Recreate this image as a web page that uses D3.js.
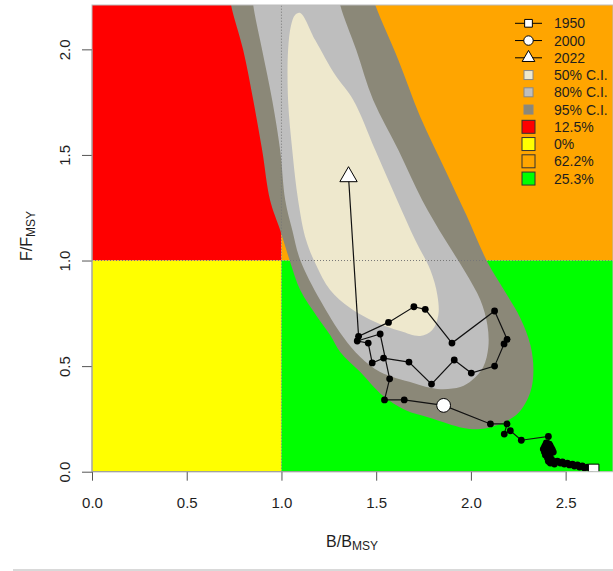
<!DOCTYPE html>
<html>
<head>
<meta charset="utf-8">
<script src="https://cdn.jsdelivr.net/npm/d3@7"></script>
<style>
  body { margin: 0; background: #fff; }
  text { font-family: "Liberation Sans", Arial, sans-serif; fill: #1e1e1e; }
</style>
</head>
<body>
<div id="chart"></div>
<script>
// stock trajectory, one point per year from 1950
const startYear = 1950
const markerYears = [1950, 2000, 2022]
const bRatio = [2.648, 2.631, 2.615, 2.599, 2.588, 2.573, 2.562, 2.546, 2.536, 2.520,
  2.509, 2.493, 2.483, 2.472, 2.456, 2.446, 2.430, 2.441, 2.419, 2.409,
  2.425, 2.404, 2.414, 2.393, 2.409, 2.388, 2.404, 2.382, 2.398, 2.414,
  2.393, 2.409, 2.388, 2.404, 2.419, 2.398, 2.414, 2.430, 2.419, 2.435,
  2.425, 2.409, 2.398, 2.414, 2.409, 2.266, 2.208, 2.176, 2.191, 2.103,
  1.856, 1.648, 1.544, 1.571, 1.521, 1.400, 1.458, 1.479, 1.539, 1.673,
  1.792, 1.912, 2.002, 2.125, 2.175, 2.191, 2.125, 1.900, 1.759, 1.699,
  1.565, 1.407, 1.354]
const fRatio = [0.011, 0.013, 0.022, 0.018, 0.027, 0.022, 0.032, 0.027, 0.036, 0.032,
  0.041, 0.036, 0.046, 0.041, 0.050, 0.046, 0.050, 0.036, 0.041, 0.050,
  0.060, 0.065, 0.074, 0.079, 0.088, 0.093, 0.103, 0.107, 0.117, 0.107,
  0.126, 0.122, 0.117, 0.131, 0.122, 0.112, 0.098, 0.103, 0.084, 0.093,
  0.112, 0.126, 0.136, 0.131, 0.167, 0.149, 0.194, 0.178, 0.226, 0.226,
  0.314, 0.340, 0.340, 0.440, 0.652, 0.619, 0.609, 0.515, 0.538, 0.519,
  0.415, 0.529, 0.467, 0.500, 0.605, 0.627, 0.761, 0.609, 0.769, 0.781,
  0.707, 0.641, 1.397]

// confidence region outlines [B/Bmsy, F/Fmsy]
const ci95 = [[0.718,2.328],[0.734,2.210],[0.798,1.997],[0.851,1.760],[0.898,1.523],[0.940,1.286],
  [0.993,1.145],[1.046,0.993],[1.099,0.860],[1.189,0.733],[1.257,0.647],[1.310,0.567],[1.416,0.472],
  [1.537,0.358],[1.653,0.292],[1.786,0.254],[1.960,0.207],[2.050,0.202],[2.155,0.226],[2.250,0.278],
  [2.314,0.378],[2.330,0.482],[2.314,0.600],[2.261,0.727],[2.182,0.850],[2.087,0.993],[1.976,1.215],
  [1.865,1.428],[1.733,1.680],[1.617,1.950],[1.495,2.210],[1.453,2.328]]
const ci80 = [[0.840,2.328],[0.851,2.210],[0.898,1.997],[0.951,1.760],[0.993,1.523],[1.020,1.286],
  [1.057,1.145],[1.099,1.003],[1.204,0.813],[1.326,0.638],[1.416,0.543],[1.521,0.472],[1.696,0.420],
  [1.823,0.392],[1.944,0.401],[2.007,0.434],[2.065,0.496],[2.092,0.591],[2.087,0.695],[2.050,0.813],
  [1.970,0.946],[1.865,1.097],[1.743,1.286],[1.617,1.523],[1.484,1.760],[1.395,1.997],[1.310,2.210],
  [1.289,2.328]]
const ci50 = [[1.099,2.172],[1.178,2.044],[1.284,1.878],[1.379,1.760],[1.495,1.523],[1.611,1.286],
  [1.706,1.097],[1.786,0.955],[1.823,0.836],[1.828,0.742],[1.796,0.671],[1.733,0.643],[1.627,0.666],
  [1.495,0.709],[1.363,0.775],[1.257,0.860],[1.183,0.979],[1.130,1.097],[1.088,1.286],[1.057,1.523],
  [1.035,1.760],[1.035,1.997],[1.051,2.115],[1.072,2.163]]

const ciLabels = ["50% C.I.", "80% C.I.", "95% C.I."]
const ciColors = ["#EEE8CD", "#BEBEBE", "#8B8878"]
const zoneLabels = ["12.5%", "0%", "62.2%", "25.3%"]
const zoneColors = ["#FF0000", "#FFFF00", "#FFA500", "#00FF00"]

const width = 613, height = 571
const x = d3.scaleLinear([0, 2.75], [92, 613])
const y = d3.scaleLinear([0, 2.21], [471.7, 5])

const svg = d3.select("#chart").append("svg")
    .attr("width", width)
    .attr("height", height)

svg.append("clipPath").attr("id", "plot")
  .append("rect")
    .attr("x", x(0)).attr("y", y(2.21))
    .attr("width", x(2.75) - x(0)).attr("height", y(0) - y(2.21))

const plot = svg.append("g").attr("clip-path", "url(#plot)")

// kobe quadrants: red, yellow, orange, green
const zones = [[0, 1, 1, 2.21], [0, 1, 0, 1], [1, 2.75, 1, 2.21], [1, 2.75, 0, 1]]
plot.selectAll("rect.zone")
  .data(zones)
  .join("rect")
    .attr("x", d => x(d[0]))
    .attr("y", d => y(d[3]))
    .attr("width", d => x(d[1]) - x(d[0]))
    .attr("height", d => y(d[2]) - y(d[3]))
    .attr("fill", (d, i) => zoneColors[i])

const outline = d3.line()
    .x(d => x(d[0]))
    .y(d => y(d[1]))
    .curve(d3.curveCatmullRomClosed.alpha(0.5))

plot.selectAll("path.ci")
  .data([ci95, ci80, ci50])
  .join("path")
    .attr("d", outline)
    .attr("fill", (d, i) => ciColors[2 - i])

// reference lines at 1
plot.append("line")
    .attr("x1", x(1)).attr("x2", x(1))
    .attr("y1", y(0)).attr("y2", y(2.21))
    .attr("stroke", "#777").attr("stroke-dasharray", "1,2")
plot.append("line")
    .attr("x1", x(0)).attr("x2", x(2.75))
    .attr("y1", y(1)).attr("y2", y(1))
    .attr("stroke", "#777").attr("stroke-dasharray", "1,2")

const traj = bRatio.map((b, i) => ({year: startYear + i, b, f: fRatio[i]}))

plot.append("path")
    .datum(traj)
    .attr("fill", "none")
    .attr("stroke", "#111")
    .attr("stroke-width", 1.2)
    .attr("d", d3.line().x(d => x(d.b)).y(d => y(d.f)))

plot.selectAll("circle.pt")
  .data(traj.filter(d => !markerYears.includes(d.year)))
  .join("circle")
    .attr("cx", d => x(d.b))
    .attr("cy", d => y(d.f))
    .attr("r", 3.4)
    .attr("fill", "#000")

const symbols = [d3.symbolSquare, d3.symbolCircle, d3.symbolTriangle]
const symSize = [110, 150, 130]
plot.selectAll("path.mark")
  .data(markerYears.map(yr => traj.find(d => d.year === yr)))
  .join("path")
    .attr("transform", d => `translate(${x(d.b)},${y(d.f)})`)
    .attr("d", (d, i) => d3.symbol(symbols[i], symSize[i] * (i === 1 ? 1.0 : 1))())
    .attr("fill", "#fff")
    .attr("stroke", "#000")
    .attr("stroke-width", 1)

// plot frame
svg.append("rect")
    .attr("x", x(0)).attr("y", y(2.21))
    .attr("width", x(2.75) - x(0)).attr("height", y(0) - y(2.21))
    .attr("fill", "none").attr("stroke", "#bbb")

// axes
const xAxis = svg.append("g")
    .attr("transform", `translate(0,${y(0)})`)
    .call(d3.axisBottom(x).tickValues([0, 0.5, 1, 1.5, 2, 2.5]).tickFormat(d3.format(".1f")).tickSize(9))
xAxis.select(".domain").remove()
xAxis.selectAll("line").attr("stroke", "#555")
xAxis.selectAll("text").attr("y", 36).attr("dy", null).attr("font-size", 15).attr("font-family", null)
xAxis.append("line").attr("x1", x(0)).attr("x2", x(2.5)).attr("stroke", "#999")

const yAxis = svg.append("g")
    .attr("transform", `translate(${x(0)},0)`)
    .call(d3.axisLeft(y).tickValues([0, 0.5, 1, 1.5, 2]).tickFormat(d3.format(".1f")).tickSize(10))
yAxis.select(".domain").remove()
yAxis.selectAll("line").attr("stroke", "#555")
yAxis.selectAll("text")
    .attr("x", null).attr("dy", null).attr("font-size", 15).attr("font-family", null)
    .attr("text-anchor", "middle")
    .attr("transform", "translate(-22,0) rotate(-90)")
yAxis.append("line").attr("y1", y(0)).attr("y2", y(2)).attr("stroke", "#999")

const xTitle = svg.append("text")
    .attr("x", 352).attr("y", 547)
    .attr("text-anchor", "middle")
    .attr("font-size", 16)
xTitle.append("tspan").text("B/B")
xTitle.append("tspan").attr("font-size", 12).attr("dy", 3).text("MSY")

const yTitle = svg.append("text")
    .attr("transform", "translate(32,236) rotate(-90)")
    .attr("text-anchor", "middle")
    .attr("font-size", 16)
yTitle.append("tspan").text("F/F")
yTitle.append("tspan").attr("font-size", 12).attr("dy", 3).text("MSY")

// legend
const legendTop = 23.3, legendStep = 17.25, lx = 528.5
const legend = svg.append("g")
const rows = [
  ...markerYears.map((yr, i) => ({label: String(yr), kind: "sym", i})),
  ...ciLabels.map((l, i) => ({label: l, kind: "ci", i})),
  ...zoneLabels.map((l, i) => ({label: l, kind: "zone", i}))
]
rows.forEach((r, k) => {
  const cy = legendTop + k * legendStep
  if (r.kind === "sym") {
    legend.append("line").attr("x1", lx - 13.5).attr("x2", lx + 13.5)
        .attr("y1", cy).attr("y2", cy).attr("stroke", "#000")
    legend.append("path")
        .attr("transform", `translate(${lx},${cy})`)
        .attr("d", d3.symbol(symbols[r.i], [60, 70, 70][r.i])())
        .attr("fill", "#fff").attr("stroke", "#000")
  } else if (r.kind === "ci") {
    legend.append("rect").attr("x", lx - 4.5).attr("y", cy - 4.5).attr("width", 9).attr("height", 9)
        .attr("fill", ciColors[r.i]).attr("stroke", "#888")
  } else {
    legend.append("rect").attr("x", lx - 6.5).attr("y", cy - 6.5).attr("width", 13).attr("height", 13)
        .attr("fill", zoneColors[r.i]).attr("stroke", "#333")
  }
  legend.append("text").attr("x", 554).attr("y", cy + 5).attr("font-size", 14).text(r.label)
})

// page rule
svg.append("line")
    .attr("x1", 13).attr("x2", 613).attr("y1", 570).attr("y2", 570)
    .attr("stroke", "#ccc").attr("stroke-width", 1.5)
</script>
</body>
</html>
